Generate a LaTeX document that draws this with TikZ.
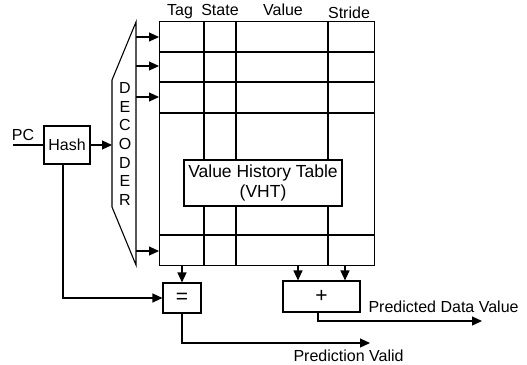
\documentclass[tikz,border=0pt]{standalone}
\usepackage{fontspec}
\setmainfont{Liberation Sans}
\usetikzlibrary{arrows.meta}
\begin{document}
\begin{tikzpicture}[x=1pt,y=-1pt,line width=1.1pt,
  txt/.style={font=\fontsize{16}{18}\selectfont,inner sep=0pt},
  blk/.style={draw,inner sep=0pt,font=\fontsize{16}{18}\selectfont},
  op/.style={blk,font=\fontsize{21}{22}\selectfont},
  arr/.style={-{Triangle[length=10pt,width=9pt]}},
]
\useasboundingbox (0,0) rectangle (527,364);

% value history table
\node[draw,anchor=north west,minimum width=215pt,minimum height=244pt,inner sep=0pt] (tbl) at (159,21) {};
\foreach \yy in {52,82,113,235} \draw (159,\yy) -- (374,\yy);
\foreach \xx in {204,236,328} \draw (\xx,21) -- (\xx,265);
\node[blk,fill=white,align=center,minimum width=158pt,minimum height=46pt,
      font=\fontsize{17.5}{20}\selectfont] (vht) at (263,183) {Value History Table\\(VHT)};

% column headings
\node[txt,anchor=base] (htag) at (180,15) {Tag};
\node[txt,anchor=base] (hstate) at (220,16) {State};
\node[txt,anchor=base] (hvalue) at (283,15) {Value};
\node[txt,anchor=base] (hstride) at (349,18) {Stride};

% decoder
\coordinate (dtop) at (136,22);
\coordinate (dbot) at (136,265);
\draw (dtop) -- (112,80) -- (112,207) -- (dbot) -- cycle;
\node[txt,align=center,font=\fontsize{16}{18.7}\selectfont] (dec) at (125,144) {D\\E\\C\\O\\D\\E\\R};
\coordinate (din) at (112,145);
\foreach \yy [count=\i] in {37,66,97,251} {
  \coordinate (d\i) at (136,\yy);
  \draw[arr] (d\i) -- (tbl.west |- d\i);
}

% hash and program counter
\node[blk,minimum width=46pt,minimum height=38pt] (hash) at (67,145) {Hash};
\node[txt,anchor=base] (pc) at (23,140) {PC};
\coordinate (pcin) at (13,145);
\draw (pcin) -- (hash.west);
\draw[arr] (hash.east) -- (din);

% comparator and adder
\node[op,minimum width=38pt,minimum height=30pt] (eq) at (182,298) {=};
\node[op,minimum width=77pt,minimum height=31pt] (plus) at (321.5,296.5) {+};

\draw[arr] ([xshift=-4pt]hash.south) |- (eq.west);
\draw[arr] (tbl.south -| eq.north) -- (eq.north);
\coordinate (cv) at (298,265);
\coordinate (cs) at (345,265);
\draw[arr] (cv) -- (cv |- plus.north);
\draw[arr] (cs) -- (cs |- plus.north);

% outputs
\coordinate (pdv) at (482,321);
\coordinate (pvo) at (370,343);
\draw[arr] ([xshift=-3.5pt]plus.south) |- (pdv);
\draw[arr] (eq.south) |- (pvo);
\node[txt,anchor=west] (pdvl) at (368,307) {Predicted Data Value};
\node[txt,anchor=base west] (pvl) at (293,361) {Prediction Valid};
\end{tikzpicture}
\end{document}
